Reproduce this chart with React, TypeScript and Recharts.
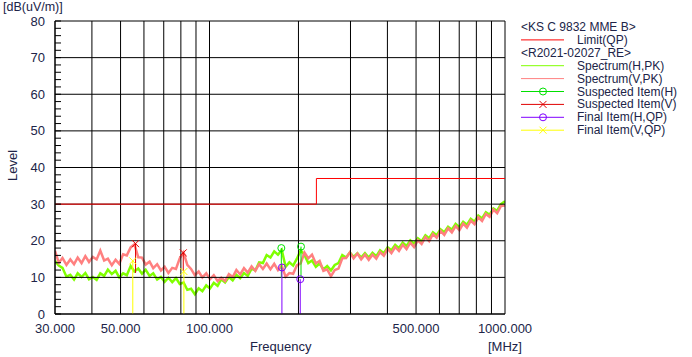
import React from 'react';
import {
  ComposedChart, Line, Scatter, XAxis, YAxis, ReferenceLine,
} from 'recharts';

// sweep frequencies (MHz)
const freqs = [
  30, 30.9, 31.8, 32.8, 33.8, 34.8, 35.8, 36.9, 38.0, 39.1,
  40.3, 41.5, 42.7, 44.0, 45.3, 46.7, 48.1, 49.5, 51.0, 52.5,
  54.1, 55.7, 57.4, 59.1, 60.8, 62.7, 64.5, 66.5, 68.5, 70.5,
  72.6, 74.8, 77.0, 79.3, 81.7, 84.1, 86.6, 89.2, 91.9, 94.6,
  97.5, 100.4, 103.4, 106.5, 109.6, 112.9, 116.3, 119.8, 123.3, 127.0,
  130.8, 134.7, 138.8, 142.9, 147.2, 151.6, 156.1, 160.8, 165.6, 170.5,
  175.6, 180.9, 186.3, 191.9, 197.6, 203.5, 209.6, 215.9, 222.3, 229.0,
  235.8, 242.9, 250.1, 257.6, 265.3, 273.2, 281.4, 289.8, 298.5, 307.4,
  316.6, 326.0, 335.8, 345.8, 356.1, 366.8, 377.7, 389.0, 400.7, 412.6,
  425.0, 437.7, 450.7, 464.2, 478.1, 492.4, 507.1, 522.2, 537.8, 553.9,
  570.4, 587.5, 605.0, 623.1, 641.7, 660.9, 680.6, 701.0, 721.9, 743.5,
  765.7, 788.6, 812.1, 836.4, 861.4, 887.1, 913.6, 940.9, 969.0, 1000,
];

// Spectrum(H,PK) dB(uV/m)
const spectrumH = [
  14.5, 13.2, 12.6, 10.2, 10.7, 9.4, 11.1, 10.1, 11.2, 9.5,
  10.1, 9.3, 11.1, 10.4, 12.1, 10.9, 11.8, 10.0, 11.1, 10.6,
  13.1, 11.6, 12.4, 11.0, 12.1, 10.4, 11.1, 9.4, 10.1, 8.8,
  9.9, 8.7, 9.8, 8.2, 8.6, 6.6, 6.9, 5.4, 7.0, 6.2,
  7.8, 7.0, 8.5, 7.7, 9.5, 8.6, 10.1, 9.2, 10.7, 9.8,
  11.2, 10.4, 12.4, 11.9, 14.1, 13.9, 16.1, 15.4, 17.1, 16.2,
  17.5, 12.9, 14.1, 13.2, 15.1, 17.4, 16.1, 13.9, 14.6, 12.9,
  13.8, 12.2, 13.1, 11.9, 13.4, 13.9, 16.1, 15.4, 16.8, 15.6,
  16.6, 15.4, 16.6, 15.4, 16.7, 15.8, 17.4, 16.6, 18.2, 17.4,
  18.9, 18.0, 19.5, 18.6, 20.1, 19.2, 20.7, 19.9, 21.5, 20.7,
  22.3, 21.5, 23.1, 22.3, 23.8, 23.0, 24.6, 23.7, 25.2, 24.4,
  26.0, 25.2, 26.9, 26.1, 27.8, 27.1, 28.8, 28.2, 30.0, 30.8,
];

// Spectrum(V,PK) dB(uV/m)
const spectrumV = [
  17.2, 14.0, 15.3, 13.4, 14.9, 13.6, 15.4, 13.9, 15.8, 14.2,
  15.6, 14.9, 17.3, 14.6, 15.1, 13.3, 14.8, 13.7, 16.3, 16.0,
  18.2, 19.0, 15.5, 15.4, 13.5, 14.3, 12.5, 13.6, 11.9, 12.9,
  11.2, 12.6, 12.3, 15.2, 16.8, 13.4, 12.3, 10.6, 11.6, 10.0,
  11.1, 9.5, 10.6, 9.0, 9.9, 9.0, 10.9, 10.1, 12.0, 10.8,
  12.5, 11.3, 13.0, 11.8, 13.6, 12.3, 13.8, 12.2, 13.7, 12.0,
  13.2, 10.2, 11.2, 11.0, 13.3, 13.8, 16.8, 15.2, 16.2, 13.8,
  14.5, 11.8, 12.2, 10.3, 12.0, 12.4, 15.2, 15.3, 16.8, 15.2,
  16.5, 14.9, 16.2, 14.8, 16.2, 15.1, 16.9, 15.9, 17.8, 16.6,
  18.3, 17.2, 18.9, 17.7, 19.5, 18.3, 20.1, 19.1, 21.0, 19.9,
  21.8, 20.8, 22.7, 21.6, 23.4, 22.3, 24.0, 22.9, 24.7, 23.6,
  25.5, 24.5, 26.4, 25.4, 27.3, 26.5, 28.5, 27.5, 29.5, 29.6,
];

// Limit(QP) KS C 9832 class B
const limitFreqs = [30, 230, 230, 1000];
const limitLevels = [30, 30, 37, 37];

// Suspected items
const suspHFreqs = [175.0, 204.0];
const suspHLevels = [18.0, 18.4];
const suspHFloor = [9.8, 10.0];
const suspVFreqs = [56.2, 81.5];
const suspVLevels = [19.2, 16.7];
const suspVFloor = [11.2, 11.8];

// Final items (QP)
const finalHFreqs = [175.8, 202.8];
const finalHLevels = [12.7, 9.5];
const finalVFreqs = [55.0, 81.9];
const finalVLevels = [14.5, 11.6];

const xTicks = [30, 40, 50, 60, 70, 80, 90, 100, 200, 300, 400, 500, 600, 700, 800, 900, 1000];
const xLabels = [30, 50, 100, 500, 1000];
const yTicks = [0, 10, 20, 30, 40, 50, 60, 70, 80];
const yMinorTicks = [0, 2, 4, 6, 8, 10, 12, 14, 16, 18, 20, 22, 24, 26, 28, 30, 32, 34, 36, 38,
  40, 42, 44, 46, 48, 50, 52, 54, 56, 58, 60, 62, 64, 66, 68, 70, 72, 74, 76, 78, 80];

const C_H = '#80ff00';
const C_V = '#ff8080';
const C_LIMIT = '#ff0000';
const C_SUSP_H = '#00e000';
const C_SUSP_V = '#e00000';
const C_FINAL_H = '#8000ff';
const C_FINAL_V = '#ffff00';
const TEXT = '#202448';
const FONT = '"Liberation Sans", Arial, sans-serif';

const toPoints = (fs: number[], vs: number[]) => fs.map((f, i) => ({ f, v: vs[i] }));

const hData = toPoints(freqs, spectrumH);
const vData = toPoints(freqs, spectrumV);
const limitSegments = limitFreqs.slice(1).map((f, i) => [
  { x: limitFreqs[i], y: limitLevels[i] },
  { x: f, y: limitLevels[i + 1] },
]);

const Ring = ({ cx, cy, color }: any) => (
  <circle cx={cx} cy={cy} r={3.5} fill="none" stroke={color} strokeWidth={1} />
);
const Cross = ({ cx, cy, color }: any) => (
  <g stroke={color} strokeWidth={1}>
    <line x1={cx - 3.5} y1={cy - 3.5} x2={cx + 3.5} y2={cy + 3.5} />
    <line x1={cx - 3.5} y1={cy + 3.5} x2={cx + 3.5} y2={cy - 3.5} />
  </g>
);

// y tick: short inward mark every 2 dB, label every 10 dB
const LevelTick = (p: any) => {
  const v = p.payload.value;
  return (
    <g>
      <line x1={p.x + 10} y1={p.y} x2={p.x + 16} y2={p.y} stroke="#000" strokeWidth={1} />
      {v % 10 === 0 && (
        <text x={p.x} y={p.y} dy={4.5} textAnchor="end" fontSize={13} fontFamily={FONT} fill={TEXT}>{v}</text>
      )}
    </g>
  );
};

const legendRows = [
  { label: '<KS C 9832 MME B>' },
  { label: 'Limit(QP)', color: C_LIMIT },
  { label: '<R2021-02027_RE>' },
  { label: 'Spectrum(H,PK)', color: C_H },
  { label: 'Spectrum(V,PK)', color: C_V },
  { label: 'Suspected Item(H)', color: C_SUSP_H, mark: 'ring' },
  { label: 'Suspected Item(V)', color: C_SUSP_V, mark: 'cross' },
  { label: 'Final Item(H,QP)', color: C_FINAL_H, mark: 'ring' },
  { label: 'Final Item(V,QP)', color: C_FINAL_V, mark: 'cross' },
];

const ChartLegend = () => (
  <svg width={180} height={130} style={{ position: 'absolute', left: 515, top: 18 }}>
    {legendRows.map((r, i) => {
      const y = 9 + i * 12.9;
      if (!r.color) {
        return (
          <text key={i} x={6} y={y + 4} fontSize={12} fontFamily={FONT} fill={TEXT}>{r.label}</text>
        );
      }
      return (
        <g key={i}>
          <line x1={6} y1={y} x2={49} y2={y} stroke={r.color} strokeWidth={1} />
          {r.mark === 'ring' && <Ring cx={28} cy={y} color={r.color} />}
          {r.mark === 'cross' && <Cross cx={28} cy={y} color={r.color} />}
          <text x={62} y={y + 4} fontSize={12} fontFamily={FONT} fill={TEXT}>{r.label}</text>
        </g>
      );
    })}
  </svg>
);

const textStyle: React.CSSProperties = {
  position: 'absolute', fontFamily: FONT, fontSize: 13, color: TEXT, lineHeight: '15px', whiteSpace: 'nowrap',
};

export default function App() {
  return (
    <div style={{ position: 'absolute', left: 0, top: 0, width: 692, height: 357, background: '#fff' }}>
      <ComposedChart width={692} height={357} margin={{ top: 21, right: 187, bottom: 13, left: 10 }}>
        <XAxis
          dataKey="f" type="number" scale="log" domain={[30, 1000]} allowDataOverflow
          ticks={xTicks} interval={0} height={30}
          tickFormatter={(t: number) => (xLabels.includes(t) ? t.toFixed(3) : '')}
          tickLine={false} axisLine={{ stroke: '#000' }} tickMargin={4}
          tick={{ fill: TEXT, fontSize: 13, fontFamily: FONT }}
        />
        <YAxis
          dataKey="v" type="number" domain={[0, 80]} ticks={yMinorTicks} interval={0} width={45}
          tickLine={false} tickSize={0} tickMargin={10} axisLine={{ stroke: '#000' }}
          tick={<LevelTick />}
        />
        <Line data={hData} dataKey="v" stroke={C_H} strokeWidth={2.5} dot={false} activeDot={false} isAnimationActive={false} />
        <Line data={vData} dataKey="v" stroke={C_V} strokeWidth={2.5} dot={false} activeDot={false} isAnimationActive={false} />
        {xTicks.map((t) => <ReferenceLine key={`gx${t}`} x={t} stroke="#000" strokeWidth={1} />)}
        {yTicks.map((t) => <ReferenceLine key={`gy${t}`} y={t} stroke="#000" strokeWidth={1} />)}
        {limitSegments.map((s, i) => (
          <ReferenceLine key={`lim${i}`} segment={s} stroke={C_LIMIT} strokeWidth={1} />
        ))}
        {suspHFreqs.map((f, i) => (
          <Line key={`sh${i}`} data={toPoints([f, f], [suspHLevels[i], suspHFloor[i]])} dataKey="v"
            stroke={C_SUSP_H} strokeWidth={1} dot={false} activeDot={false} isAnimationActive={false} />
        ))}
        {suspVFreqs.map((f, i) => (
          <Line key={`sv${i}`} data={toPoints([f, f], [suspVLevels[i], suspVFloor[i]])} dataKey="v"
            stroke={C_SUSP_V} strokeWidth={1} dot={false} activeDot={false} isAnimationActive={false} />
        ))}
        {finalHFreqs.map((f, i) => (
          <Line key={`fh${i}`} data={toPoints([f, f], [finalHLevels[i], 0])} dataKey="v"
            stroke={C_FINAL_H} strokeWidth={1} dot={false} activeDot={false} isAnimationActive={false} />
        ))}
        {finalVFreqs.map((f, i) => (
          <Line key={`fv${i}`} data={toPoints([f, f], [finalVLevels[i], 0])} dataKey="v"
            stroke={C_FINAL_V} strokeWidth={1} dot={false} activeDot={false} isAnimationActive={false} />
        ))}
        <Scatter data={toPoints(suspHFreqs, suspHLevels)} isAnimationActive={false}
          shape={(p: any) => <Ring cx={p.cx} cy={p.cy} color={C_SUSP_H} />} />
        <Scatter data={toPoints(suspVFreqs, suspVLevels)} isAnimationActive={false}
          shape={(p: any) => <Cross cx={p.cx} cy={p.cy} color={C_SUSP_V} />} />
        <Scatter data={toPoints(finalHFreqs, finalHLevels)} isAnimationActive={false}
          shape={(p: any) => <Ring cx={p.cx} cy={p.cy} color={C_FINAL_H} />} />
        <Scatter data={toPoints(finalVFreqs, finalVLevels)} isAnimationActive={false}
          shape={(p: any) => <Cross cx={p.cx} cy={p.cy} color={C_FINAL_V} />} />
      </ComposedChart>
      <div style={{ ...textStyle, fontSize: 12.5, left: 3, top: 0 }}>[dB(uV/m)]</div>
      <div style={{ ...textStyle, left: -8, top: 158, width: 40, textAlign: 'center', transform: 'rotate(-90deg)' }}>Level</div>
      <div style={{ ...textStyle, left: 250, top: 339 }}>Frequency</div>
      <div style={{ ...textStyle, left: 488, top: 339 }}>[MHz]</div>
      <ChartLegend />
    </div>
  );
}
